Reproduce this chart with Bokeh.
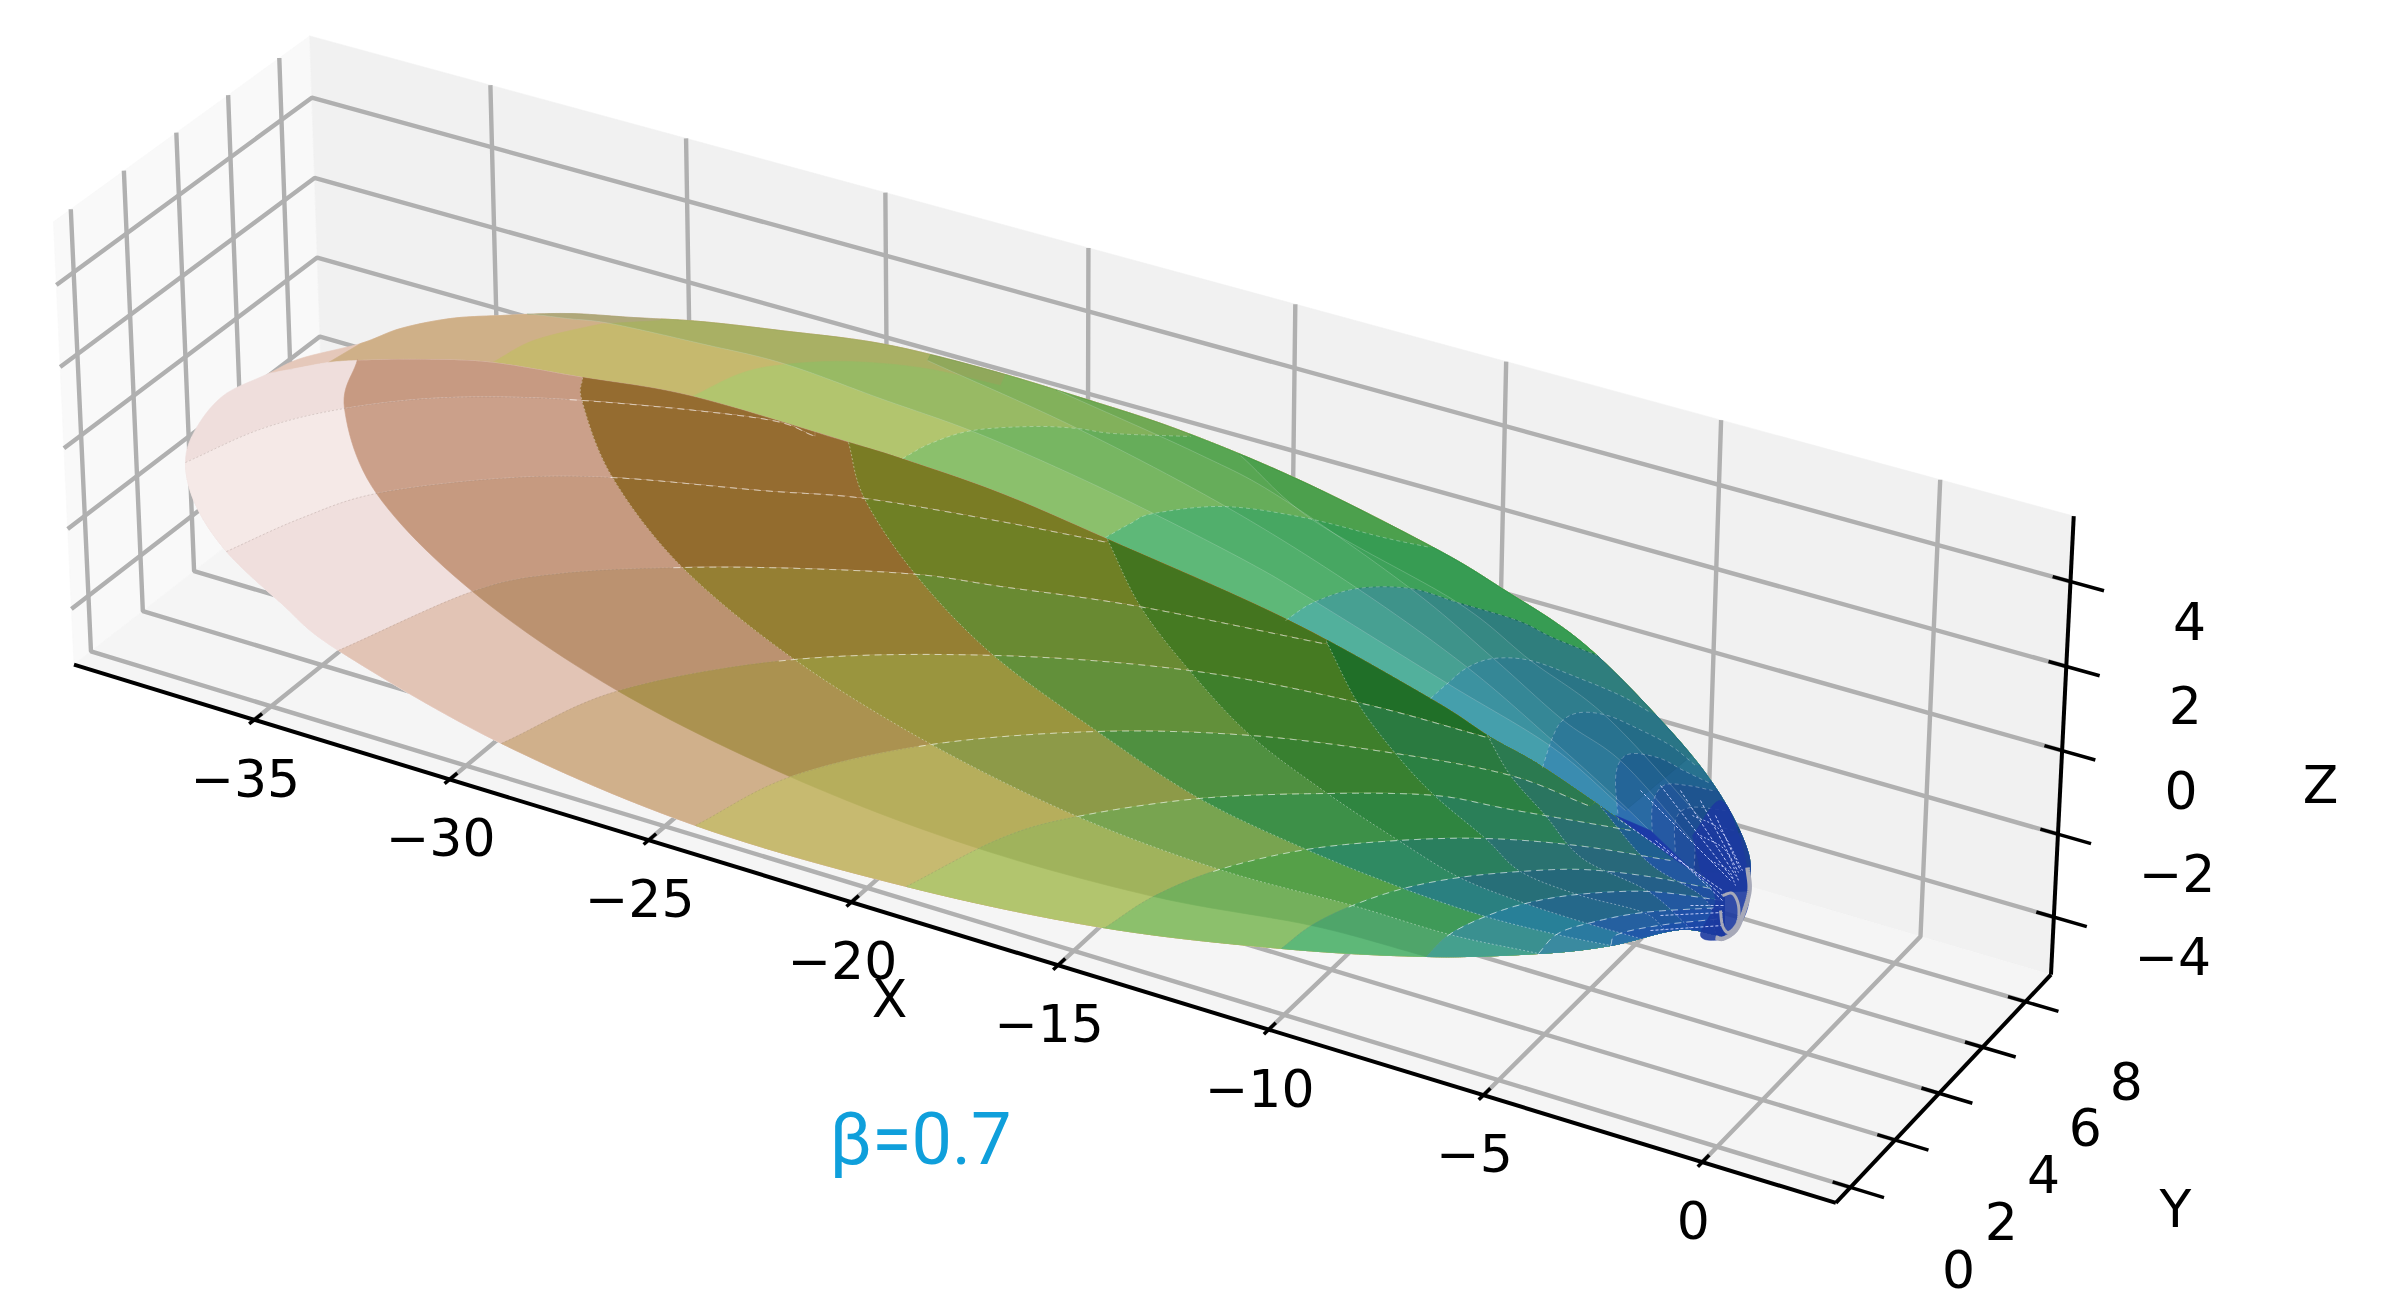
import numpy as np
from bokeh.plotting import figure
from bokeh.embed import file_html
from bokeh.resources import INLINE
from bokeh.core.properties import value

# ---- axes values -------------------------------------------------------
x_ticks = [-35, -30, -25, -20, -15, -10, -5, 0]
y_ticks = [0, 2, 4, 6, 8]
z_ticks = [-4, -2, 0, 2, 4]
x_lim = (-39.7, 3.0)
y_lim = (-0.65, 9.2)
z_lim = (-5.4, 5.53)

# ---- surface outline (picture pixels) ----------------------------------
top_edge = [(268,373),(300,358),(360,343),(400,328),(450,318),(500,315),(567,313),(633,317),(700,321),(780,330),(880,343),(980,367),(1080,397),(1180,430),(1300,480),(1433,547),(1500,587),(1583,643),(1667,727),(1717,790),(1747,850),(1749,890)]
ridge = [(268,373),(300,367),(328,362),(358,360),(420,359),(491,362),(582,377),(692,396),(848,442),(906,460),(1000,493),(1107,539),(1286,619),(1431,699),(1490,737),(1541,766),(1620,820),(1673,858),(1724,891)]
low_edge = [(268,373),(223,395),(195,429),(185,462),(195,504),(226,551),(281,603),(338,650),(501,743),(695,825),(906,886),(1102,927),(1281,948),(1426,956),(1538,953),(1610,945),(1679,929),(1724,936)]

# rows of the lower shell (from the outline to the ridge)
row_v1 = [(185,462),(262,428),(344,408),(450,397),(582,400),(760,418),(815,436)]
row_v2 = [(226,551),(300,518),(376,493),(500,478),(610,477),(760,490),(864,498),(1000,521),(1107,542)]
row_v3 = [(338,650),(472,591),(560,573),(683,567),(800,568),(917,574),(1000,586),(1138,606),(1327,644)]
row_v4 = [(501,743),(619,690),(794,659),(995,655),(1189,670),(1357,702),(1490,738)]
row_v5 = [(695,825),(791,776),(931,744),(1097,731),(1250,735),(1395,753),(1510,775),(1590,806)]
row_v6 = [(906,886),(1000,838),(1077,816),(1199,798),(1327,793),(1434,795),(1510,809),(1630,830)]
row_v7 = [(1105,927),(1153,896),(1219,869),(1306,849),(1398,840),(1485,838),(1576,845),(1670,860)]
row_v8 = [(1281,948),(1311,925),(1352,905),(1403,888),(1459,877),(1520,871),(1582,869),(1648,876),(1710,888)]
row_v9 = [(1426,956),(1449,934),(1485,916),(1525,903),(1577,894),(1648,891),(1722,900)]
row_v10 = [(1538,953),(1556,934),(1587,923),(1643,912),(1722,907)]
row_v11 = [(1610,945),(1617,934),(1658,925),(1722,918)]
rows = [row_v1,row_v2,row_v3,row_v4,row_v5,row_v6,row_v7,row_v8,row_v9,row_v10,row_v11]
row_colors = ["#efdedc","#f5e9e7","#f0dfdd","#e2c4b5","#d0b08b","#c7ba70","#b2c56e","#8cc06c","#5eb878","#52b09e","#459fac","#3c80b0"]

# long bands of the second shell (from the ridge round to the lower edge)
band_o1 = [(357,359),(344,408),(376,493),(472,591),(615,689),(787,775),(969,845),(1153,896),(1311,925),(1426,956)]
band_o2 = [(582,377),(582,402),(612,477),(682,567),(794,659),(931,744),(1077,816),(1219,869),(1352,905),(1449,934),(1538,953)]
band_o3 = [(848,442),(864,498),(915,574),(992,654),(1097,731),(1199,798),(1306,849),(1403,888),(1485,916),(1556,934),(1610,945)]
band_o4 = [(1107,539),(1140,606),(1189,670),(1250,735),(1327,793),(1398,840),(1459,877),(1525,903),(1587,923),(1640,938)]
band_o5 = [(1326,641),(1357,702),(1395,753),(1434,795),(1485,838),(1520,871),(1577,894),(1643,912),(1665,930)]
band_o6 = [(1487,735),(1510,775),(1545,815),(1582,858),(1648,891),(1690,928)]
band_o7 = [(1600,806),(1648,862),(1704,898),(1715,932)]
bands = [band_o1,band_o2,band_o3,band_o4,band_o5,band_o6,band_o7]
# colour of each band (one list per band) in each row
band1_cells = ["#c79a82","#cba08a","#c69a80","#bb9270","#ab9250","#b6ae5c","#a0b35c","#74b05c","#4fa56a","#45a08e","#3f90a0","#3a78a8"]
band2_cells = ["#956c30","#956c30","#936c2e","#957f33","#9a953e","#8d9a48","#78a450","#55a048","#3f9a58","#3a9090","#3a8aa0","#3a80a8"]
band3_cells = ["#7a7c24","#7a7c24","#6f8025","#698a32","#62903a","#4f9040","#3d9048","#2f8a62","#2a8080","#288098","#2a7aa0","#2a70a8"]
band4_cells = ["#44751f","#44751f","#44751f","#457a22","#3e7f2b","#388030","#2f8540","#2a7f5e","#276f78","#25688a","#2560a0","#2058a8"]
band5_cells = ["#206f28","#206f28","#206f28","#206f28","#2a7a40","#2b8042","#2a7f58","#2a7270","#25687a","#23608c","#2058a0","#1c50a8"]
band6_cells = ["#2b7a50","#2b7a50","#2b7a50","#2b7a50","#2b7a50","#2a7560","#2a7070","#28687a","#245f88","#2258a0","#1f50a8","#1c48a8"]
band7_cells = ["#1f6090","#1f6090","#1f6090","#1f6090","#1f6090","#1f6090","#1f5f90","#2258a0","#1f50a0","#1c48a0","#1c3fa0","#1c3aa0"]
band_cells = [band1_cells,band2_cells,band3_cells,band4_cells,band5_cells,band6_cells,band7_cells]

# bands of the upper strip (from the ridge, arching to the top edge)
arc_t0 = [(328,362),(360,343)]
arc_t1 = [(492,362),(533,340),(593,325),(610,323),(660,320)]
arc_t2 = [(692,396),(740,373),(784,364),(848,361),(925,368),(1000,385)]
arc_t3 = [(902,458),(930,443),(972,430),(1033,426),(1077,428),(1113,433),(1190,436)]
arc_t4 = [(1105,537),(1130,523),(1153,513),(1223,506),(1303,517),(1383,537),(1430,547)]
arc_t5 = [(1285,620),(1313,602),(1357,588),(1410,588),(1457,602),(1517,620),(1552,637),(1597,655)]
arc_t6 = [(1430,698),(1447,683),(1467,667),(1493,658),(1530,660),(1577,677),(1620,695),(1650,712)]
arc_t7 = [(1542,767),(1552,737),(1562,720),(1580,712),(1607,715),(1637,728),(1670,745),(1695,765)]
arc_t8 = [(1618,820),(1615,780),(1620,760),(1633,753),(1660,758),(1683,770),(1708,782)]
arc_t9 = [(1652,840),(1652,805),(1663,785),(1687,785),(1712,790)]
arc_t10 = [(1675,858),(1675,820),(1690,807),(1725,810)]
arc_t11 = [(1693,872),(1700,827),(1735,830)]
arcs = [arc_t0,arc_t1,arc_t2,arc_t3,arc_t4,arc_t5,arc_t6,arc_t7,arc_t8,arc_t9,arc_t10,arc_t11]
strip_base = "#e5c8ba"
arc_colors = ["#cfb088","#c6b96e","#b2c56e","#8bc06c","#5eb878","#52b09c","#459fac","#3a8cb0","#2e70b0","#2a5cb0","#2450a8","#1f3f9f"]

# seams running along the upper strip towards the tip
strip_l1 = [(527,313),(567,318),(610,323),(700,343),(783,363),(880,398),(970,430),(1063,470),(1153,513),(1250,563),(1313,600),(1447,683),(1552,747),(1625,810)]
strip_l2 = [(927,360),(1077,428),(1227,507),(1357,588),(1467,667),(1552,740),(1615,797),(1690,870)]
strip_l3 = [(1057,390),(1197,453),(1280,497),(1410,588),(1493,658),(1563,720),(1623,763),(1700,850)]
strip_l4 = [(1240,455),(1313,520),(1457,602),(1530,660),(1610,720),(1720,840)]
strips = [strip_l1,strip_l2,strip_l3,strip_l4]

# tip
tip_fill = [(1692,835),(1720,800),(1740,840),(1749,890),(1742,920),(1723,938),(1700,935),(1715,900),(1700,870)]
tip_wedge = [(1615,815),(1650,830),(1700,878),(1724,891),(1673,858)]
tip_rim = [(1715,937),(1723,938),(1735,930),(1742,915),(1749,890),(1747,867)]
tip_ring = [(1722,895),(1732,893),(1738,905),(1737,922),(1728,932),(1722,925),(1720,910)]
tip_rays = [[(1640,790),(1730,880)],[(1660,785),(1732,878)],[(1680,790),(1735,875)],[(1700,800),(1738,872)],[(1715,815),(1740,870)],[(1620,820),(1722,890)],[(1655,840),(1722,895)],[(1680,860),(1722,900)],[(1690,905),(1725,905)],[(1660,915),(1722,912)],[(1650,930),(1722,925)]]
tip_arcs = [[(1692,815),(1720,830),(1742,870)],[(1700,835),(1725,850),(1738,880)],[(1710,860),(1728,870),(1735,885)]]

# ---- camera fitted on the axis box --------------------------------------
cal3 = [(x_lim[0],y_lim[0],z_lim[0]),(x_lim[1],y_lim[0],z_lim[0]),(x_lim[1],y_lim[1],z_lim[0]),(x_lim[1],y_lim[1],z_lim[1]),
        (x_lim[0],y_lim[1],z_lim[1]),(x_lim[0],y_lim[0],z_lim[1]),
        (-35,y_lim[0],z_lim[0]),(-20,y_lim[0],z_lim[0]),(0,y_lim[0],z_lim[0]),
        (x_lim[1],0,z_lim[0]),(x_lim[1],8,z_lim[0]),(x_lim[1],y_lim[1],4),(x_lim[1],y_lim[1],-4),
        (x_lim[0],y_lim[1],4),(x_lim[0],y_lim[0],4),(x_lim[0],y_lim[0],-4),(x_lim[0],0,z_lim[1]),(x_lim[0],8,z_lim[1])]
cal2 = [(72,661),(1837,1200),(2049,973.5),(2074,516),(310,35),(54,219),
        (254,723),(851,905),(1701,1165),(1848,1185),(2027,1005),(2070,580),(2053,913),
        (312.5,94.6),(56,282),(73,606),(69,212),(276,62.5)]
A = []
for (X,Y,Z),(u,v) in zip(cal3,cal2):
    A.append([X,Y,Z,1,0,0,0,0,-u*X,-u*Y,-u*Z,-u])
    A.append([0,0,0,0,X,Y,Z,1,-v*X,-v*Y,-v*Z,-v])
A = np.array(A,float)
scale = np.array([40,10,10,1,40,10,10,1,40,10,10,1.0])
_,_,vt = np.linalg.svd(A*scale)
P = (vt[-1]*scale).reshape(3,4)

def proj(X,Y,Z):
    h = P @ np.array([X,Y,Z,1.0])
    return h[0]/h[2], h[1]/h[2]

def smooth(pts, n=12):
    a = np.array(pts,float)
    if len(a) < 3:
        return a
    q = np.vstack([2*a[0]-a[1],a,2*a[-1]-a[-2]])
    out = []
    for i in range(1,len(q)-2):
        for t in np.linspace(0,1,n,endpoint=False):
            out.append(0.5*((2*q[i])+(-q[i-1]+q[i+1])*t+(2*q[i-1]-5*q[i]+4*q[i+1]-q[i+2])*t*t+(-q[i-1]+3*q[i]-3*q[i+1]+q[i+2])*t**3))
    out.append(a[-1])
    return np.array(out)

def locate(chain, pt):
    d = np.hypot(*(chain-np.array(pt,float)).T)
    return int(np.argmin(d))

def between(chain, p, q):
    i,j = locate(chain,p),locate(chain,q)
    return chain[i:j+1] if i<=j else chain[j:i+1][::-1]

def crossing(a,b):
    for i in range(len(a)-1):
        p0,r=a[i],a[i+1]-a[i]
        s=b[1:]-b[:-1]
        d=r[0]*s[:,1]-r[1]*s[:,0]
        with np.errstate(divide="ignore",invalid="ignore"):
            t=((b[:-1,0]-p0[0])*s[:,1]-(b[:-1,1]-p0[1])*s[:,0])/d
            u=((b[:-1,0]-p0[0])*r[1]-(b[:-1,1]-p0[1])*r[0])/d
        k=np.where((t>=0)&(t<=1)&(u>=0)&(u<=1))[0]
        if len(k):
            return i,int(k[0]),p0+t[k[0]]*r
    return None

top_c = smooth(top_edge)
ridge_c = smooth(ridge)
low_c = smooth(low_edge)

W,H = 2392,1305
p = figure(width=W,height=H,x_range=(0,W),y_range=(H,0),output_backend="svg",toolbar_location=None,
           min_border=0,outline_line_color=None,background_fill_color="white",border_fill_color="white")
p.xaxis.visible=False; p.yaxis.visible=False; p.grid.visible=False

def poly(points,color,alpha=1.0):
    a=np.array(points)
    p.patch(a[:,0],a[:,1],fill_color=color,fill_alpha=alpha,line_color=color,line_alpha=alpha,line_width=0.6)

def lines(points,color,width,dash="solid",alpha=1.0):
    a=np.array(points)
    p.line(a[:,0],a[:,1],line_color=color,line_width=width,line_dash=dash,line_alpha=alpha)

# ---- panes --------------------------------------------------------------
x0,x1=x_lim; y0,y1=y_lim; z0,z1=z_lim
poly([proj(x0,y0,z0),proj(x0,y1,z0),proj(x0,y1,z1),proj(x0,y0,z1)],"#f9f9f9")
poly([proj(x0,y1,z0),proj(x1,y1,z0),proj(x1,y1,z1),proj(x0,y1,z1)],"#f1f1f1")
poly([proj(x0,y0,z0),proj(x1,y0,z0),proj(x1,y1,z0),proj(x0,y1,z0)],"#f5f5f5")

# ---- grid ---------------------------------------------------------------
grid="#b0b0b0"; gw=4.4
for t in x_ticks:
    lines([proj(t,y0,z0),proj(t,y1,z0),proj(t,y1,z1)],grid,gw)
for t in y_ticks:
    lines([proj(x1,t,z0),proj(x0,t,z0),proj(x0,t,z1)],grid,gw)
for t in z_ticks:
    lines([proj(x1,y1,t),proj(x0,y1,t),proj(x0,y0,t)],grid,gw)

# ---- axes and ticks -----------------------------------------------------
lines([proj(x0,y0,z0),proj(x1,y0,z0)],"black",4)
lines([proj(x1,y0,z0),proj(x1,y1,z0)],"black",4)
lines([proj(x1,y1,z0),proj(x1,y1,z1)],"black",4)
for t in x_ticks:
    lines([proj(t,y0+0.3,z0),proj(t,y0-0.2,z0)],"black",3.5)
for t in y_ticks:
    lines([proj(x1-0.4,t,z0),proj(x1+0.75,t,z0)],"black",3.5)
for t in z_ticks:
    lines([proj(x1-0.4,y1,t),proj(x1+0.75,y1,t)],"black",3.5)

# ---- surface: upper strip painted from the far end towards the tip ------
poly(np.vstack([top_c,ridge_c[::-1]]),strip_base)
for arc,col in zip(arcs,arc_colors):
    c=smooth(arc)
    poly(np.vstack([c,between(top_c,c[-1],top_c[-1]),between(ridge_c,ridge_c[-1],c[0])]),col)
split=smooth(arc_t5)
for s in strips:
    c=smooth(s)
    hit=crossing(c,split)
    if hit is None:
        poly(np.vstack([c,between(top_c,c[-1],c[0])]),"#108030",0.16)
    else:
        ic,ia,pt=hit
        tail=split[ia+1:]
        poly(np.vstack([c[:ic+1],pt[None,:],tail,between(top_c,tail[-1],c[0])]),"#108030",0.16)
        poly(np.vstack([pt[None,:],c[ic+1:],between(top_c,c[-1],tail[-1]),tail[::-1]]),"#104a60",0.15)

# ---- lower shell: row by row, each row's cells painted band by band -----
row_curves=[smooth(r) for r in rows]
band_curves=[smooth(b) for b in bands]
tip_pt=ridge_c[-1]; low_end=low_c[-1]

def inside_band(o):
    return np.vstack([o,between(low_c,o[-1],low_end),between(ridge_c,tip_pt,o[0])])

def below_row(v):
    return np.vstack([v,between(ridge_c,v[-1],tip_pt),between(low_c,low_end,v[0])])

def cell_region(o,v):
    hit=crossing(o,v)
    if hit is not None:
        io,iv,pt=hit
        return np.vstack([pt[None,:],v[iv+1:],between(ridge_c,v[-1],tip_pt),between(low_c,low_end,o[-1]),o[io+1:][::-1]])
    if locate(low_c,o[-1])<=locate(low_c,v[0]):
        return below_row(v)
    return inside_band(o)

for j,col in enumerate(row_colors):
    if j==0:
        poly(np.vstack([ridge_c,low_c[::-1]]),col)
    else:
        poly(below_row(row_curves[j-1]),col)
    for k,o in enumerate(band_curves):
        cc=band_cells[k][j]
        if j==0:
            poly(inside_band(o),cc)
        else:
            poly(cell_region(o,row_curves[j-1]),cc)

# seams
o2=band_curves[1]
for v in row_curves:
    hit=crossing(o2,v)
    if hit is not None:
        lines(v[:hit[1]+1],"#8a7a70",0.8,"2 2",0.35)
        lines(v[hit[1]:],"#ffffff",1.0,"7 5",0.6)
    else:
        lines(v,"#ffffff",1.0,"7 5",0.6)
for b in band_curves[1:]:
    lines(b,"#ffffff",0.8,"2 2",0.5)
for s in strips:
    lines(smooth(s),"#ffffff",0.7,"solid",0.3)
for a in arcs[3:]:
    lines(smooth(a),"#ffffff",0.8,"4 3",0.4)

# tip
poly(tip_wedge,"#1c3aa8")
poly(smooth(tip_fill),"#1c3aa0",0.9)
for ray in tip_rays:
    lines(ray,"#cfd6ff",1.0,"3 2",0.9)
for arc in tip_arcs:
    lines(smooth(arc),"#cfd6ff",1.0,"2 2",0.9)
lines(smooth(tip_rim),"#a7a9b8",4.5)
lines(smooth(tip_ring),"#a7a9b8",3)

# ---- texts --------------------------------------------------------------
font=value("DejaVu Sans")
def label(x,y,s,size="52px",color="black",fnt=font):
    p.text([x],[y],text=[s],text_align="center",text_baseline="middle",text_font=fnt,text_font_size=size,text_color=color)
def fmt(t):
    return ("\u2212%d"%abs(t)) if t<0 else "%d"%t
for t in x_ticks:
    u,v=proj(t,y0,z0); label(u-9,v+58,fmt(t))
for t in y_ticks:
    u,v=proj(x1,t,z0); label(u+108-0.9*t,v+82-0.3*t,fmt(t))
for t in z_ticks:
    u,v=proj(x1,y1,t); label(u+119,v+39,fmt(t))
label(889,998,"X")
label(2175,1208,"Y")
label(2320,784,"Z")
label(920,1139,"\u03b2=0.7","72px","#0f9fdb",value("Roboto"))

open("out.html","w").write(file_html(p,INLINE))
